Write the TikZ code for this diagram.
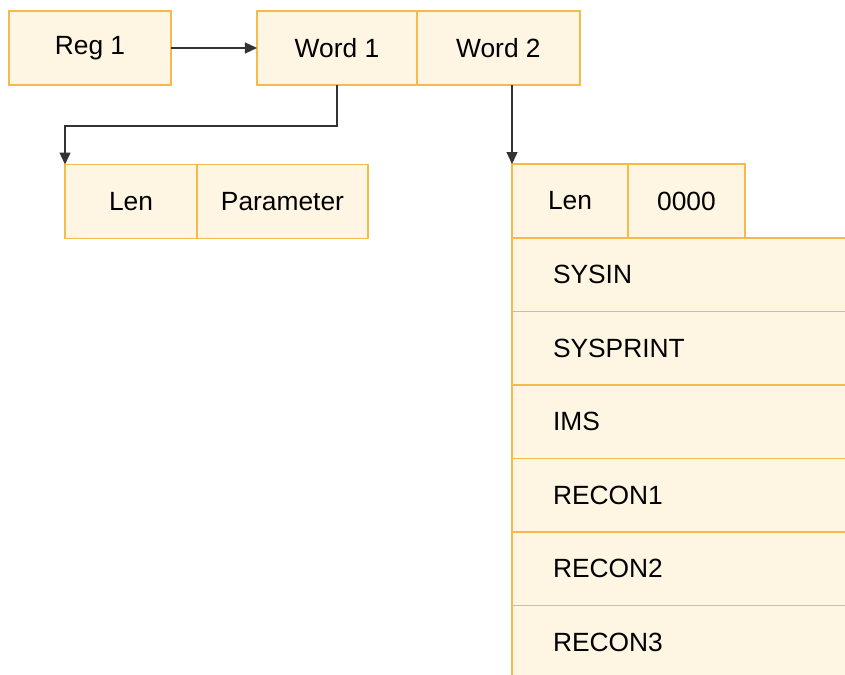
\documentclass[tikz,border=0pt]{standalone}
\usepackage{fontspec}
\setmainfont{Liberation Sans}
\usetikzlibrary{arrows.meta, positioning}
\definecolor{bordeCelda}{HTML}{F5BA4C}
\definecolor{fondoCelda}{HTML}{FEF5E3}
\definecolor{colorFlecha}{HTML}{333333}

\begin{document}
\begin{tikzpicture}[
        x=0.02cm, y=-0.02cm, node distance=0pt,
        celda/.style={draw=bordeCelda, fill=fondoCelda, line width=0.8pt, outer sep=0pt,
            minimum height=1.48cm, inner sep=0pt, font=\fontsize{15}{18}\selectfont},
        fila/.style={celda, minimum height=1.47cm, text width=6.36cm, inner xsep=0.82cm,
            align=left, anchor=north west},
        flecha/.style={-{Triangle[length=0.24cm, width=0.22cm]}, colorFlecha, line width=0.75pt}
    ]
        \useasboundingbox (0,0) rectangle (845,675);
        \clip (0,0) rectangle (845,675);
        \node[celda, minimum width=3.24cm] (reg) at (90,48) {Reg 1};
        \node[celda, minimum width=3.2cm, right=1.72cm of reg] (word1) {Word 1};
        \node[celda, minimum width=3.26cm, right=of word1] (word2) {Word 2};
        \node[celda, minimum width=2.64cm] (lenA) at (131,201.5) {Len};
        \node[celda, minimum width=3.42cm, right=of lenA] (param) {Parameter};
        \node[celda, minimum width=2.32cm] (lenB) at (570,201) {Len};
        \node[celda, minimum width=2.34cm, right=of lenB] (ceros) {0000};
        \foreach \nombre [count=\i] in {SYSIN,SYSPRINT,IMS,RECON1,RECON2,RECON3}
            \node[fila] (fila\i) at (512,{238+73.5*(\i-1)}) {\nombre};
        \draw[flecha] (reg) -- (word1);
        \draw[flecha] (word1.south) -- ++(0,41) -| (lenA.north west);
        \draw[flecha] (lenB.north west |- word2.south) -- (lenB.north west);
    \end{tikzpicture}
\end{document}
